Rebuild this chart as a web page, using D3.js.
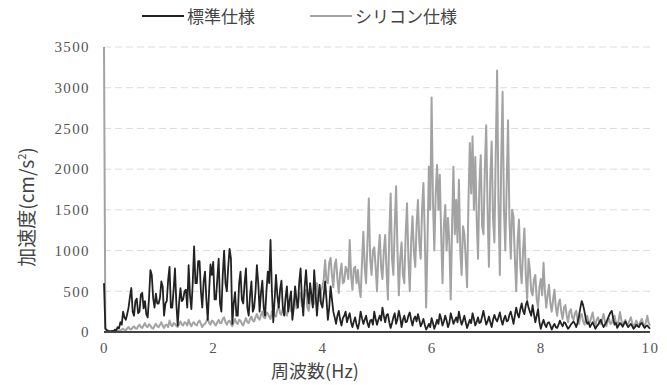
<!DOCTYPE html>
<html>
<head>
<meta charset="utf-8">
<script src="https://cdn.jsdelivr.net/npm/d3@7"></script>
<style>
  html, body { margin: 0; padding: 0; background: #fff; }
  svg { display: block; }
</style>
</head>
<body>
<svg id="chart" width="667" height="385"></svg>
<script>
// Spectral amplitudes (cm/s^2), one value per 0.025 Hz step from 0 to 10 Hz
const freqStep = 0.025;
const yTicks = [0, 500, 1000, 1500, 2000, 2500, 3000, 3500];
const xTicks = [0, 2, 4, 6, 8, 10];
const seriesNames = ["標準仕様", "シリコン仕様"];

// 標準仕様
const standardValues = [
  600, 40, 20, 10, 10, 8, 15, 12, 30, 20,
  60, 45, 120, 90, 250, 180, 150, 220, 300, 430,
  540, 250, 200, 380, 410, 230, 250, 460, 480, 290,
  380, 220, 180, 420, 760, 700, 420, 300, 470, 350,
  350, 420, 620, 560, 200, 350, 380, 640, 800, 300,
  300, 520, 780, 350, 80, 350, 540, 380, 400, 500,
  520, 300, 820, 450, 280, 600, 1050, 600, 600, 870,
  870, 500, 300, 620, 740, 400, 150, 500, 830, 700,
  860, 400, 400, 650, 900, 350, 250, 700, 1000, 600,
  500, 800, 1020, 900, 100, 350, 490, 200, 200, 600,
  740, 400, 350, 600, 780, 300, 200, 450, 620, 250,
  300, 500, 820, 600, 250, 480, 630, 300, 200, 500,
  740, 600, 1130, 500, 120, 400, 700, 450, 300, 520,
  630, 300, 200, 420, 560, 250, 390, 500, 150, 300,
  560, 400, 300, 600, 780, 400, 200, 550, 760, 500,
  350, 600, 450, 300, 760, 480, 200, 420, 580, 350,
  300, 450, 620, 400, 150, 300, 560, 400, 250, 180,
  100, 200, 260, 150, 80, 170, 200, 250, 120, 180,
  230, 120, 60, 130, 180, 90, 40, 120, 250, 170,
  100, 150, 200, 110, 60, 140, 150, 90, 250, 160,
  90, 150, 200, 140, 300, 200, 120, 210, 220, 120,
  50, 110, 180, 230, 100, 160, 260, 180, 60, 150,
  200, 120, 130, 200, 240, 150, 80, 160, 190, 130,
  220, 150, 70, 110, 160, 90, 30, 60, 100, 60,
  170, 110, 40, 90, 150, 100, 220, 160, 80, 130,
  200, 140, 60, 110, 230, 170, 100, 140, 180, 120,
  250, 160, 90, 140, 200, 120, 50, 100, 150, 110,
  230, 160, 80, 120, 180, 110, 120, 190, 260, 170,
  90, 130, 190, 120, 60, 150, 210, 160, 130, 180,
  240, 150, 90, 160, 200, 130, 140, 210, 250, 180,
  100, 200, 300, 220, 180, 280, 350, 260, 220, 330,
  380, 300, 250, 200, 330, 220, 120, 200, 280, 120,
  40, 100, 150, 90, 60, 110, 120, 80, 30, 70,
  100, 60, 50, 90, 140, 100, 70, 120, 110, 70,
  40, 60, 90, 110, 130, 100, 60, 120, 200, 300,
  380, 330, 250, 160, 100, 120, 60, 90, 120, 80,
  40, 70, 90, 120, 150, 100, 60, 90, 120, 160,
  200, 240, 260, 170, 90, 110, 50, 80, 110, 90,
  70, 100, 130, 90, 60, 80, 100, 70, 40, 60,
  90, 70, 60, 100, 110, 80, 50, 70, 80, 60,
  40
];

// シリコン仕様
const siliconeValues = [
  3500, 40, 30, 15, 10, 8, 5, 8, 10, 15,
  20, 12, 15, 30, 40, 25, 20, 45, 60, 35,
  30, 55, 70, 45, 40, 70, 90, 60, 50, 80,
  110, 70, 60, 95, 80, 50, 40, 75, 100, 70,
  60, 90, 120, 75, 50, 85, 90, 60, 140, 90,
  70, 110, 100, 75, 60, 95, 130, 90, 80, 120,
  110, 80, 150, 100, 70, 110, 120, 90, 80, 120,
  140, 100, 60, 90, 100, 130, 170, 110, 90, 140,
  130, 100, 80, 120, 150, 110, 110, 160, 180, 120,
  90, 130, 140, 100, 70, 120, 160, 110, 100, 150,
  140, 100, 80, 130, 170, 120, 110, 160, 190, 140,
  130, 180, 220, 170, 150, 210, 250, 180, 170, 240,
  230, 190, 160, 250, 280, 200, 190, 270, 320, 230,
  210, 290, 300, 220, 200, 310, 350, 260, 240, 380,
  420, 290, 300, 450, 480, 320, 330, 470, 520, 300,
  260, 400, 450, 330, 350, 540, 600, 420, 380, 500,
  560, 650, 880, 620, 600, 850, 910, 700, 550, 820,
  890, 650, 480, 720, 840, 600, 620, 800, 760, 650,
  1130, 700, 520, 780, 800, 600, 760, 550, 430, 850,
  1230, 800, 600, 1100, 1640, 900, 700, 1000, 1040, 800,
  500, 950, 1190, 800, 650, 1000, 1190, 750, 400, 1200,
  1700, 900, 700, 1300, 1790, 1000, 450, 900, 1100, 700,
  600, 1200, 1580, 900, 500, 1100, 1420, 1000, 800, 1300,
  1620, 1100, 900, 1500, 1830, 1200, 300, 1100, 2030, 1500,
  2880, 1600, 1000, 1700, 2050, 1500, 1930, 1200, 600, 1300,
  1560, 1000, 1400, 1100, 400, 1300, 2030, 1200, 1620, 1100,
  1870, 1000, 700, 1300, 1200, 900, 550, 1600, 2320, 1700,
  2400, 1500, 2150, 1400, 900, 1800, 2170, 1300, 1200, 2000,
  2540, 1500, 800, 1900, 2340, 1400, 1100, 2200, 3210, 1600,
  700, 2100, 2950, 1500, 1000, 1800, 2600, 1400, 900, 1500,
  1420, 900, 500, 1100, 1380, 800, 600, 1000, 1270, 700,
  400, 900, 760, 500, 450, 650, 700, 400, 300, 550,
  650, 450, 850, 500, 300, 450, 580, 350, 250, 400,
  520, 300, 200, 350, 400, 250, 160, 300, 330, 200,
  120, 250, 280, 180, 150, 230, 260, 140, 100, 200,
  220, 130, 90, 170, 200, 120, 120, 180, 240, 130,
  80, 150, 180, 110, 100, 160, 220, 120, 70, 130,
  160, 100, 110, 170, 200, 120, 90, 140, 245, 150,
  60, 120, 150, 90, 100, 140, 180, 110, 50, 100,
  140, 90, 90, 130, 160, 100, 60, 120, 200, 110,
  80
];

const svg = d3.select("#chart");
const plot = { left: 104, right: 650, top: 47, bottom: 332 };

const x = d3.scaleLinear().domain([0, 10]).range([plot.left, plot.right]);
const y = d3.scaleLinear().domain([0, 3500]).range([plot.bottom, plot.top]);

const numFont = "'Liberation Serif', 'DejaVu Serif', serif";
const cjkFont = "'Noto Sans CJK JP', 'Noto Sans', sans-serif";

// Horizontal gridlines
svg.append("g")
  .selectAll("line")
  .data(yTicks.filter(d => d > 0))
  .join("line")
  .attr("x1", plot.left)
  .attr("x2", plot.right)
  .attr("y1", d => y(d))
  .attr("y2", d => y(d))
  .attr("stroke", "#dcdcdc")
  .attr("stroke-width", 1)
  .attr("stroke-dasharray", "7,4");

// Y axis tick labels
const yAxis = d3.axisLeft(y).tickValues(yTicks).tickSize(0).tickPadding(14)
  .tickFormat(d3.format("d"));
svg.append("g")
  .attr("transform", `translate(${plot.left},0)`)
  .call(yAxis)
  .call(g => g.select(".domain").remove())
  .call(g => g.selectAll("text")
    .attr("font-family", numFont)
    .attr("font-size", 15)
    .attr("letter-spacing", 1.4)
    .attr("fill", "#555"));

// X axis tick labels
const xAxis = d3.axisBottom(x).tickValues(xTicks).tickSize(0).tickPadding(10)
  .tickFormat(d3.format("d"));
svg.append("g")
  .attr("transform", `translate(0,${plot.bottom})`)
  .call(xAxis)
  .call(g => g.select(".domain").remove())
  .call(g => g.selectAll("text")
    .attr("font-family", numFont)
    .attr("font-size", 15)
    .attr("letter-spacing", 1.4)
    .attr("fill", "#555"));

// Clip the traces to the plotting area
svg.append("clipPath").attr("id", "plotClip")
  .append("rect")
  .attr("x", plot.left - 2)
  .attr("y", plot.top)
  .attr("width", plot.right - plot.left + 4)
  .attr("height", plot.bottom - plot.top + 2);

const line = d3.line()
  .x((d, i) => x(i * freqStep))
  .y(d => y(d));

const traces = svg.append("g").attr("clip-path", "url(#plotClip)");

traces.append("path")
  .datum(siliconeValues)
  .attr("d", line)
  .attr("fill", "none")
  .attr("stroke", "#a3a3a3")
  .attr("stroke-width", 2)
  .attr("stroke-linejoin", "round");

traces.append("path")
  .datum(standardValues)
  .attr("d", line)
  .attr("fill", "none")
  .attr("stroke", "#222")
  .attr("stroke-width", 1.8)
  .attr("stroke-linejoin", "round");

// Baseline
svg.append("line")
  .attr("x1", plot.left)
  .attr("x2", plot.right)
  .attr("y1", plot.bottom)
  .attr("y2", plot.bottom)
  .attr("stroke", "#444")
  .attr("stroke-width", 2);

// Axis titles
svg.append("text")
  .attr("x", 315)
  .attr("y", 378)
  .attr("text-anchor", "middle")
  .attr("font-family", cjkFont)
  .attr("font-size", 18)
  .attr("fill", "#444")
  .text("周波数(Hz)");

const yTitle = svg.append("text")
  .attr("transform", "translate(34,207) rotate(-90)")
  .attr("text-anchor", "middle")
  .attr("font-family", cjkFont)
  .attr("font-size", 19)
  .attr("fill", "#444");
yTitle.append("tspan").text("加速度(cm/s");
yTitle.append("tspan").attr("font-size", 11).attr("dy", -8).text("2");
yTitle.append("tspan").attr("dy", 8).text(")");

// Legend
const legendItems = [
  { name: seriesNames[0], color: "#222", x: 142 },
  { name: seriesNames[1], color: "#a3a3a3", x: 310 }
];
const legend = svg.append("g");
legendItems.forEach(item => {
  legend.append("line")
    .attr("x1", item.x)
    .attr("x2", item.x + 42)
    .attr("y1", 16)
    .attr("y2", 16)
    .attr("stroke", item.color)
    .attr("stroke-width", 2.2);
  legend.append("text")
    .attr("x", item.x + 45)
    .attr("y", 23)
    .attr("font-family", cjkFont)
    .attr("font-size", 17)
    .attr("fill", "#444")
    .text(item.name);
});
</script>
</body>
</html>
